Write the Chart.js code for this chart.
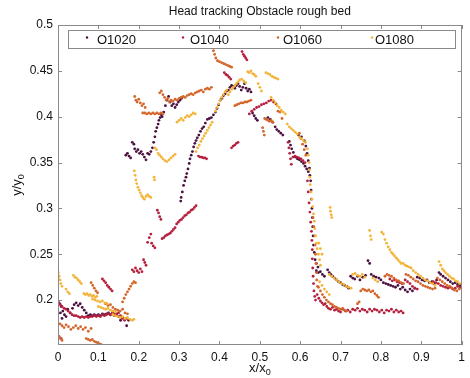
<!DOCTYPE html>
<html>
<head>
<meta charset="utf-8">
<script src="https://cdn.jsdelivr.net/npm/chart.js@4.4.1/dist/chart.umd.min.js"></script>
<style>
html,body{margin:0;padding:0;background:#fff;}
#wrap{width:470px;height:378px;}
</style>
</head>
<body>
<div id="wrap"><canvas id="c" width="470" height="378"></canvas></div>
<script>
const chartTitle = "Head tracking Obstacle rough bed";
const seriesNames = ["O1020", "O1040", "O1060", "O1080"];
const seriesColors = ["#4b1140", "#b4203e", "#d4672c", "#f2b53a"];
const xTicks = [0, 0.1, 0.2, 0.3, 0.4, 0.5, 0.6, 0.7, 0.8, 0.9, 1];
const yTicks = [0.2, 0.25, 0.3, 0.35, 0.4, 0.45, 0.5];

const o1020Points = [
[0.000,0.198],[0.004,0.196],[0.008,0.193],[0.012,0.188],[0.016,0.184],[0.020,0.182],[0.006,0.186],[0.010,0.180],[0.024,0.190],[0.030,0.186],[0.036,0.191],[0.040,0.195],[0.045,0.197],[0.050,0.194],[0.055,0.196],[0.060,0.192],[0.065,0.189],[0.070,0.186],[0.075,0.183],[0.080,0.184],[0.085,0.183],[0.090,0.184],[0.095,0.183],[0.100,0.184],[0.105,0.183],[0.110,0.185],[0.115,0.184],[0.120,0.185],[0.125,0.186],[0.130,0.184],[0.135,0.186],[0.140,0.183],[0.145,0.185],[0.150,0.182],[0.155,0.178],[0.160,0.181],[0.170,0.172],[0.175,0.178],
[0.168,0.358],[0.172,0.360],[0.176,0.357],[0.180,0.355],[0.184,0.372],[0.188,0.370],[0.190,0.365],[0.194,0.362],[0.198,0.364],[0.202,0.360],[0.206,0.362],[0.210,0.359],[0.214,0.356],[0.218,0.353],[0.222,0.360],[0.226,0.359],[0.230,0.362],[0.234,0.366],[0.237,0.372],[0.240,0.378],[0.242,0.384],[0.245,0.388],[0.248,0.392],[0.250,0.396],[0.253,0.399],[0.256,0.402],[0.258,0.400],[0.262,0.405],[0.266,0.412],[0.270,0.418],[0.274,0.422],[0.278,0.416],[0.282,0.412],[0.286,0.414],[0.290,0.410],[0.294,0.413],[0.298,0.416],[0.302,0.418],[0.306,0.420],
[0.304,0.308],[0.305,0.312],[0.308,0.318],[0.311,0.325],[0.314,0.330],[0.317,0.334],[0.319,0.338],[0.322,0.343],[0.325,0.349],[0.327,0.354],[0.330,0.358],[0.333,0.362],[0.336,0.367],[0.339,0.371],[0.342,0.374],[0.345,0.377],[0.349,0.380],[0.353,0.384],[0.357,0.387],[0.361,0.389],[0.365,0.393],[0.370,0.397],[0.375,0.398],[0.380,0.399],[0.385,0.402],[0.390,0.405],[0.394,0.409],[0.398,0.413],[0.402,0.418],[0.406,0.420],[0.410,0.423],[0.414,0.425],[0.418,0.428],[0.422,0.429],[0.426,0.432],[0.430,0.434],[0.434,0.433],[0.438,0.431],[0.442,0.434],[0.446,0.436],[0.450,0.433],[0.454,0.429],[0.458,0.432],[0.462,0.436],[0.466,0.431],[0.470,0.428],[0.474,0.430],[0.478,0.427],
[0.482,0.404],[0.486,0.401],[0.490,0.398],[0.494,0.396],[0.520,0.399],[0.526,0.397],[0.532,0.394],[0.538,0.389],[0.542,0.386],[0.547,0.384],[0.552,0.382],[0.557,0.380],[0.573,0.373],[0.576,0.369],[0.579,0.365],[0.583,0.361],[0.588,0.356],[0.593,0.354],[0.598,0.353],[0.603,0.351],[0.608,0.349],[0.612,0.346],[0.616,0.343],[0.620,0.340],[0.624,0.336],[0.596,0.380],[0.603,0.378],[0.610,0.374],[0.614,0.368],[0.617,0.360],[0.620,0.352],[0.623,0.344],[0.626,0.330],[0.627,0.320],[0.628,0.310],[0.629,0.300],[0.630,0.290],[0.631,0.280],[0.632,0.270],[0.633,0.260],[0.635,0.252],[0.637,0.244],[0.640,0.240],[0.644,0.236],
[0.640,0.232],[0.645,0.230],[0.650,0.231],[0.655,0.228],[0.660,0.226],[0.668,0.233],[0.672,0.230],[0.676,0.228],[0.680,0.226],[0.685,0.224],[0.690,0.222],[0.695,0.220],[0.700,0.219],[0.705,0.217],[0.710,0.216],[0.715,0.215],[0.720,0.213],[0.725,0.226],[0.730,0.224],[0.735,0.223],[0.742,0.226],[0.748,0.222],[0.755,0.225],[0.762,0.227],[0.768,0.243],[0.772,0.240],[0.776,0.228],[0.782,0.226],[0.788,0.225],[0.795,0.224],[0.800,0.222],[0.806,0.219],[0.812,0.218],[0.818,0.217],[0.824,0.216],[0.830,0.215],[0.836,0.214],[0.842,0.216],[0.848,0.212],[0.854,0.214],[0.860,0.211],[0.866,0.209],[0.872,0.212],[0.878,0.210],[0.884,0.213],[0.890,0.225],[0.896,0.224],[0.902,0.222],[0.908,0.221],[0.914,0.222],[0.920,0.219],[0.926,0.220],[0.932,0.218],[0.938,0.222],[0.944,0.230],[0.948,0.228],[0.954,0.226],[0.960,0.224],[0.966,0.222],[0.972,0.220],[0.978,0.218],[0.984,0.219],[0.990,0.217],[0.996,0.216]
];

const o1040Points = [
[0.002,0.197],[0.006,0.195],[0.010,0.193],[0.015,0.191],[0.020,0.190],[0.025,0.188],[0.030,0.186],[0.035,0.184],[0.040,0.183],[0.045,0.183],[0.050,0.182],[0.055,0.181],[0.060,0.182],[0.065,0.181],[0.070,0.182],[0.075,0.181],[0.080,0.182],[0.085,0.182],[0.090,0.183],[0.095,0.182],[0.100,0.183],[0.105,0.182],[0.110,0.184],[0.115,0.183],[0.120,0.184],[0.125,0.185],[0.130,0.184],[0.135,0.186],[0.140,0.185],[0.145,0.184],[0.150,0.186],[0.155,0.183],[0.160,0.180],[0.165,0.178],[0.170,0.180],[0.003,0.160],[0.008,0.158],
[0.110,0.223],[0.114,0.221],[0.118,0.219],[0.122,0.216],[0.126,0.214],[0.130,0.212],[0.134,0.210],
[0.184,0.233],[0.188,0.231],[0.192,0.235],[0.196,0.232],[0.200,0.230],[0.204,0.234],[0.208,0.231],[0.212,0.244],[0.215,0.241],[0.218,0.238],[0.222,0.263],[0.226,0.268],[0.230,0.272],[0.232,0.262],[0.236,0.259],[0.240,0.257],[0.246,0.298],[0.249,0.295],[0.252,0.291],[0.255,0.288],[0.258,0.267],[0.262,0.268],[0.266,0.270],[0.270,0.271],[0.274,0.272],[0.278,0.273],[0.282,0.275],[0.286,0.277],[0.290,0.279],[0.294,0.283],[0.298,0.285],[0.302,0.287],[0.306,0.288],[0.310,0.290],[0.314,0.292],[0.318,0.293],[0.322,0.295],[0.326,0.296],[0.330,0.298],[0.334,0.299],[0.338,0.301],[0.342,0.303],
[0.348,0.357],[0.352,0.356],[0.356,0.356],[0.360,0.355],[0.364,0.355],[0.368,0.354],
[0.430,0.366],[0.434,0.368],[0.438,0.369],[0.442,0.371],[0.446,0.372],
[0.412,0.448],[0.416,0.446],[0.420,0.445],[0.424,0.443],[0.428,0.441],
[0.456,0.471],[0.459,0.468],[0.462,0.466],[0.465,0.464],[0.468,0.462],
[0.474,0.403],[0.480,0.406],[0.486,0.408],[0.492,0.410],[0.498,0.411],[0.504,0.413],[0.510,0.414],[0.516,0.415],[0.522,0.417],[0.528,0.418],[0.534,0.416],[0.540,0.414],
[0.570,0.372],[0.572,0.366],[0.574,0.360],[0.576,0.354],[0.578,0.348],[0.582,0.356],[0.587,0.357],[0.592,0.356],[0.597,0.355],[0.602,0.354],[0.607,0.352],[0.612,0.350],
[0.618,0.330],[0.620,0.318],[0.622,0.306],[0.624,0.296],[0.626,0.285],[0.628,0.275],[0.629,0.265],[0.630,0.255],[0.630,0.245],[0.631,0.235],[0.632,0.226],[0.633,0.218],[0.634,0.210],[0.636,0.204],[0.638,0.200],
[0.642,0.206],[0.646,0.202],[0.650,0.199],[0.654,0.197],[0.658,0.195],[0.662,0.196],[0.666,0.193],[0.670,0.191],[0.675,0.190],[0.680,0.192],[0.685,0.189],[0.690,0.190],[0.695,0.188],[0.700,0.187],[0.706,0.190],[0.712,0.188],[0.718,0.189],[0.724,0.187],[0.730,0.190],[0.736,0.189],[0.742,0.191],[0.748,0.188],[0.754,0.190],[0.760,0.189],[0.766,0.187],[0.772,0.190],[0.778,0.188],[0.784,0.190],[0.790,0.189],[0.796,0.187],[0.802,0.189],[0.808,0.186],[0.814,0.189],[0.820,0.188],[0.826,0.190],[0.832,0.187],[0.838,0.189],[0.844,0.187],[0.850,0.188],[0.855,0.186],
[0.822,0.223],[0.828,0.221],[0.834,0.222],[0.840,0.220],[0.846,0.219],[0.852,0.218],[0.860,0.222],[0.866,0.220],[0.872,0.218],[0.878,0.215],[0.884,0.213],[0.890,0.212],
[0.930,0.220],[0.936,0.219],[0.942,0.218],[0.948,0.216],[0.954,0.215],[0.960,0.214],[0.966,0.213],[0.972,0.214],[0.978,0.212],[0.984,0.213],[0.990,0.215],[0.996,0.214]
];

const o1060Points = [
[0.005,0.174],[0.010,0.172],[0.015,0.170],[0.020,0.173],[0.026,0.171],[0.032,0.168],[0.038,0.170],[0.044,0.172],[0.050,0.169],[0.056,0.171],[0.062,0.168],[0.068,0.170],[0.075,0.166],[0.082,0.169],
[0.002,0.160],[0.006,0.158],[0.010,0.156],
[0.070,0.158],[0.075,0.157],[0.080,0.156],[0.085,0.157],[0.090,0.155],[0.095,0.154],[0.100,0.153],[0.105,0.152],[0.108,0.151],
[0.082,0.219],[0.086,0.216],[0.090,0.213],[0.094,0.210],[0.098,0.208],
[0.118,0.196],[0.124,0.194],[0.130,0.195],[0.136,0.192],[0.142,0.190],[0.148,0.189],[0.154,0.188],[0.160,0.190],[0.166,0.186],[0.172,0.185],
[0.160,0.198],[0.164,0.202],[0.168,0.206],[0.172,0.209],[0.176,0.212],[0.180,0.215],[0.184,0.218],[0.188,0.220],[0.192,0.219],
[0.190,0.422],[0.193,0.418],[0.196,0.416],[0.200,0.419],[0.204,0.415],[0.208,0.412],[0.212,0.414],[0.216,0.410],[0.210,0.404],[0.215,0.404],[0.220,0.403],[0.225,0.404],[0.230,0.403],[0.235,0.404],[0.240,0.403],[0.245,0.404],[0.250,0.403],[0.255,0.404],[0.260,0.403],[0.252,0.426],[0.256,0.428],[0.260,0.424],[0.264,0.421],[0.268,0.418],[0.272,0.420],[0.276,0.416],[0.280,0.418],[0.285,0.417],[0.290,0.419],[0.295,0.418],[0.300,0.420],[0.305,0.421],[0.310,0.422],[0.315,0.421],[0.320,0.423],[0.325,0.424],[0.330,0.425],[0.335,0.424],[0.340,0.426],[0.345,0.427],[0.350,0.428],[0.355,0.429],[0.360,0.427],[0.365,0.430],[0.370,0.431],[0.375,0.430],[0.380,0.432],
[0.382,0.476],[0.385,0.472],[0.388,0.468],[0.391,0.464],[0.395,0.461],[0.400,0.460],[0.405,0.459],[0.410,0.458],[0.415,0.457],[0.420,0.456],[0.425,0.455],[0.430,0.454],
[0.438,0.412],[0.443,0.413],[0.448,0.414],[0.453,0.415],[0.458,0.415],[0.463,0.416],[0.468,0.416],[0.473,0.417],[0.478,0.418],
[0.512,0.398],[0.516,0.397],[0.520,0.396],[0.524,0.395],[0.528,0.396],[0.532,0.394],[0.545,0.406],[0.550,0.405],[0.555,0.398],
[0.507,0.388],[0.509,0.384],[0.511,0.380],
[0.598,0.382],[0.602,0.376],[0.606,0.370],[0.610,0.364],[0.614,0.358],
[0.632,0.290],[0.634,0.280],[0.636,0.270],[0.637,0.260],[0.638,0.250],[0.639,0.240],[0.640,0.230],[0.641,0.222],[0.643,0.215],
[0.645,0.214],[0.650,0.210],[0.655,0.206],[0.660,0.203],[0.665,0.200],[0.670,0.198],[0.675,0.196],[0.680,0.195],[0.685,0.193],[0.690,0.192],[0.695,0.191],[0.700,0.190],[0.705,0.191],[0.710,0.189],[0.715,0.188],[0.742,0.196],[0.746,0.198],[0.750,0.210],[0.755,0.212],[0.760,0.211],[0.765,0.210],[0.770,0.211],[0.775,0.209],[0.780,0.210],[0.785,0.207],[0.790,0.205],[0.794,0.203],
[0.810,0.226],[0.815,0.228],[0.820,0.227],[0.826,0.226],[0.832,0.224],[0.838,0.222],[0.844,0.221],[0.850,0.219],[0.856,0.218],[0.862,0.228],[0.868,0.227],[0.874,0.225],[0.880,0.223],[0.886,0.221],[0.892,0.220],[0.898,0.218],[0.904,0.216],[0.910,0.215],[0.916,0.214],[0.922,0.213],[0.928,0.212],[0.934,0.213],[0.940,0.224],[0.946,0.222],[0.952,0.220],[0.958,0.218],[0.964,0.216],[0.970,0.215],[0.976,0.213],[0.982,0.211],[0.988,0.210],[0.994,0.212]
];

const o1080Points = [
[0.001,0.230],[0.003,0.226],[0.005,0.222],[0.007,0.218],[0.010,0.215],[0.020,0.212],[0.024,0.209],[0.028,0.207],[0.038,0.227],[0.042,0.225],[0.046,0.224],[0.050,0.222],[0.054,0.220],[0.058,0.218],[0.064,0.207],[0.068,0.206],[0.072,0.207],[0.076,0.205],[0.080,0.206],[0.084,0.204],[0.088,0.205],[0.092,0.203],[0.096,0.204],[0.086,0.201],[0.092,0.200],[0.098,0.199],[0.104,0.198],[0.110,0.199],[0.116,0.197],[0.122,0.196],[0.100,0.193],[0.106,0.192],[0.112,0.191],[0.118,0.190],[0.124,0.191],[0.130,0.189],[0.136,0.188],[0.142,0.187],[0.136,0.184],[0.142,0.183],[0.148,0.182],[0.154,0.181],[0.160,0.182],[0.166,0.180],[0.172,0.181],[0.178,0.179],[0.184,0.178],[0.188,0.179],
[0.189,0.341],[0.191,0.336],[0.193,0.331],[0.195,0.327],[0.198,0.323],[0.201,0.320],[0.204,0.317],[0.207,0.314],[0.210,0.312],[0.214,0.310],[0.218,0.313],[0.222,0.315],[0.226,0.313],[0.230,0.312],[0.238,0.334],[0.239,0.331],
[0.240,0.366],[0.244,0.364],[0.248,0.360],[0.252,0.358],[0.256,0.356],[0.260,0.354],[0.265,0.352],[0.270,0.351],[0.275,0.353],[0.280,0.355],[0.285,0.357],[0.290,0.359],
[0.295,0.394],[0.300,0.396],[0.305,0.398],[0.310,0.396],[0.315,0.399],[0.320,0.401],[0.325,0.400],[0.330,0.402],[0.335,0.404],[0.340,0.403],
[0.342,0.362],[0.346,0.366],[0.350,0.369],[0.354,0.373],[0.358,0.376],[0.362,0.379],[0.366,0.382],[0.370,0.385],[0.374,0.388],[0.378,0.391],[0.382,0.394],
[0.390,0.406],[0.394,0.410],[0.398,0.414],[0.402,0.418],[0.406,0.421],[0.410,0.424],[0.414,0.427],[0.418,0.429],
[0.422,0.424],[0.426,0.427],[0.430,0.430],[0.434,0.432],[0.438,0.434],[0.442,0.436],[0.446,0.438],[0.450,0.440],[0.455,0.441],[0.460,0.439],[0.465,0.437],
[0.470,0.449],[0.474,0.448],[0.478,0.450],[0.482,0.447],[0.486,0.446],[0.490,0.444],
[0.515,0.448],[0.520,0.447],[0.525,0.446],[0.530,0.444],[0.535,0.443],[0.540,0.442],[0.545,0.441],
[0.496,0.436],[0.500,0.432],[0.504,0.428],
[0.528,0.421],[0.533,0.418],[0.538,0.415],[0.543,0.412],[0.548,0.410],[0.553,0.407],[0.558,0.405],[0.563,0.403],
[0.568,0.392],[0.573,0.389],[0.578,0.387],[0.583,0.385],[0.588,0.383],[0.593,0.381],[0.598,0.378],[0.603,0.376],[0.608,0.374],[0.613,0.372],
[0.618,0.365],[0.620,0.358],[0.622,0.350],[0.623,0.342],[0.624,0.334],[0.625,0.326],[0.627,0.318],[0.629,0.310],[0.631,0.302],[0.633,0.294],[0.635,0.286],[0.636,0.278],[0.638,0.270],[0.640,0.262],[0.642,0.256],[0.645,0.250],[0.648,0.244],[0.650,0.238],
[0.674,0.301],[0.675,0.297],[0.677,0.293],[0.678,0.290],
[0.772,0.276],[0.774,0.270],[0.776,0.266],[0.802,0.274],[0.806,0.272],[0.810,0.266],[0.814,0.262],[0.818,0.258],[0.822,0.255],[0.826,0.252],[0.830,0.250],[0.834,0.248],[0.838,0.246],[0.842,0.244],[0.846,0.242],[0.850,0.240],[0.855,0.240],[0.860,0.238],[0.865,0.237],[0.870,0.236],[0.875,0.235],[0.880,0.232],[0.886,0.230],[0.892,0.228],[0.898,0.226],[0.904,0.224],[0.910,0.222],[0.916,0.221],[0.922,0.219],[0.928,0.218],[0.934,0.216],
[0.944,0.242],[0.948,0.238],[0.952,0.234],[0.956,0.232],[0.960,0.230],[0.965,0.228],[0.970,0.226],[0.975,0.224],[0.980,0.223],[0.985,0.221],[0.990,0.220],[0.995,0.218],
[0.646,0.262],[0.650,0.256],[0.654,0.250],
[0.672,0.228],[0.678,0.226],[0.684,0.224],[0.690,0.222],[0.696,0.220],[0.702,0.218],[0.708,0.217],[0.714,0.215],[0.720,0.214],[0.726,0.213],
[0.730,0.228],[0.736,0.229],[0.742,0.227],[0.748,0.226],[0.754,0.228],[0.760,0.225],
[0.648,0.220],[0.654,0.216],[0.660,0.212],[0.666,0.209],[0.672,0.206],
[0.780,0.224],[0.786,0.222],[0.792,0.220]
];

const seriesPoints = [o1020Points, o1040Points, o1060Points, o1080Points];
const FONT = "'Liberation Sans', Arial, Helvetica, sans-serif";
Chart.defaults.font.family = FONT;

const decorPlugin = {
  id: 'decor',
  afterDraw(chart) {
    const ctx = chart.ctx;
    const a = chart.chartArea;
    const xs = chart.scales.x, ys = chart.scales.y;
    ctx.save();
    ctx.strokeStyle = '#8a8a8a';
    ctx.lineWidth = 1;
    ctx.strokeRect(Math.round(a.left) + 0.5, Math.round(a.top) + 0.5, Math.round(a.right - a.left) - 1, Math.round(a.bottom - a.top) - 1);
    const tl = 4;
    ctx.beginPath();
    xTicks.forEach(v => {
      const px = Math.round(xs.getPixelForValue(v)) + 0.5;
      ctx.moveTo(px, a.bottom); ctx.lineTo(px, a.bottom - tl);
      ctx.moveTo(px, a.top); ctx.lineTo(px, a.top + tl);
    });
    yTicks.forEach(v => {
      const py = Math.round(ys.getPixelForValue(v)) + 0.5;
      ctx.moveTo(a.left, py); ctx.lineTo(a.left + tl, py);
      ctx.moveTo(a.right, py); ctx.lineTo(a.right - tl, py);
    });
    ctx.stroke();
    const lx = 68, ly = 30, lw = 387, lh = 18;
    ctx.fillStyle = '#fff';
    ctx.fillRect(lx, ly, lw, lh);
    ctx.strokeStyle = '#8a8a8a';
    ctx.strokeRect(lx + 0.5, ly + 0.5, lw, lh);
    const markX = [87, 183, 278, 372];
    const textX = [97, 190, 283, 375];
    ctx.font = '13px ' + FONT;
    ctx.textBaseline = 'middle';
    ctx.textAlign = 'left';
    chart.data.datasets.forEach((ds, i) => {
      ctx.fillStyle = ds.backgroundColor;
      ctx.beginPath();
      ctx.arc(markX[i], 37.5, 1.2, 0, Math.PI * 2);
      ctx.fill();
      ctx.fillStyle = '#111';
      ctx.fillText(ds.label, textX[i], 40.5);
    });
    ctx.fillStyle = '#111';
    ctx.textAlign = 'center';
    ctx.font = '12px ' + FONT;
    ctx.fillText(chartTitle, (a.left + a.right) / 2, 12);
    function subText(main, sub, cx, cy) {
      ctx.font = '13px ' + FONT;
      const w1 = ctx.measureText(main).width;
      ctx.font = '9px ' + FONT;
      const w2 = ctx.measureText(sub).width;
      const x0 = cx - (w1 + w2) / 2;
      ctx.textAlign = 'left';
      ctx.textBaseline = 'alphabetic';
      ctx.font = '13px ' + FONT;
      ctx.fillText(main, x0, cy + 4);
      ctx.font = '9px ' + FONT;
      ctx.fillText(sub, x0 + w1, cy + 7);
    }
    subText('x/x', '0', (a.left + a.right) / 2, 368);
    ctx.save();
    ctx.translate(17, 185);
    ctx.rotate(-Math.PI / 2);
    subText('y/y', '0', 0, 0);
    ctx.restore();
    ctx.restore();
  }
};

new Chart(document.getElementById('c'), {
  type: 'scatter',
  data: {
    datasets: seriesNames.map((name, i) => ({
      label: name,
      data: seriesPoints[i].map(p => ({ x: p[0], y: p[1] })),
      backgroundColor: seriesColors[i],
      borderColor: seriesColors[i],
      borderWidth: 0,
      pointRadius: 1.4,
      pointHoverRadius: 1.4,
      order: 3 - i
    }))
  },
  options: {
    responsive: false,
    animation: false,
    events: [],
    layout: { padding: { top: 25, right: 4, left: 0, bottom: 0 } },
    plugins: { legend: { display: false }, title: { display: false }, tooltip: { enabled: false } },
    scales: {
      x: {
        type: 'linear', min: 0, max: 1,
        grid: { display: false, drawTicks: false },
        border: { display: false },
        afterBuildTicks: s => { s.ticks = xTicks.map(v => ({ value: v })); },
        afterFit: s => { s.height = 33; },
        ticks: { color: '#111', font: { size: 12 }, padding: 5, maxRotation: 0, autoSkip: false, callback: v => String(v) }
      },
      y: {
        type: 'linear', min: 0.151, max: 0.5,
        grid: { display: false, drawTicks: false },
        border: { display: false },
        afterBuildTicks: s => { s.ticks = yTicks.map(v => ({ value: v })); },
        afterFit: s => { s.width = 58; },
        ticks: { color: '#111', font: { size: 12 }, padding: 5, autoSkip: false, callback: v => String(v) }
      }
    }
  },
  plugins: [decorPlugin]
});
</script>
</body>
</html>
